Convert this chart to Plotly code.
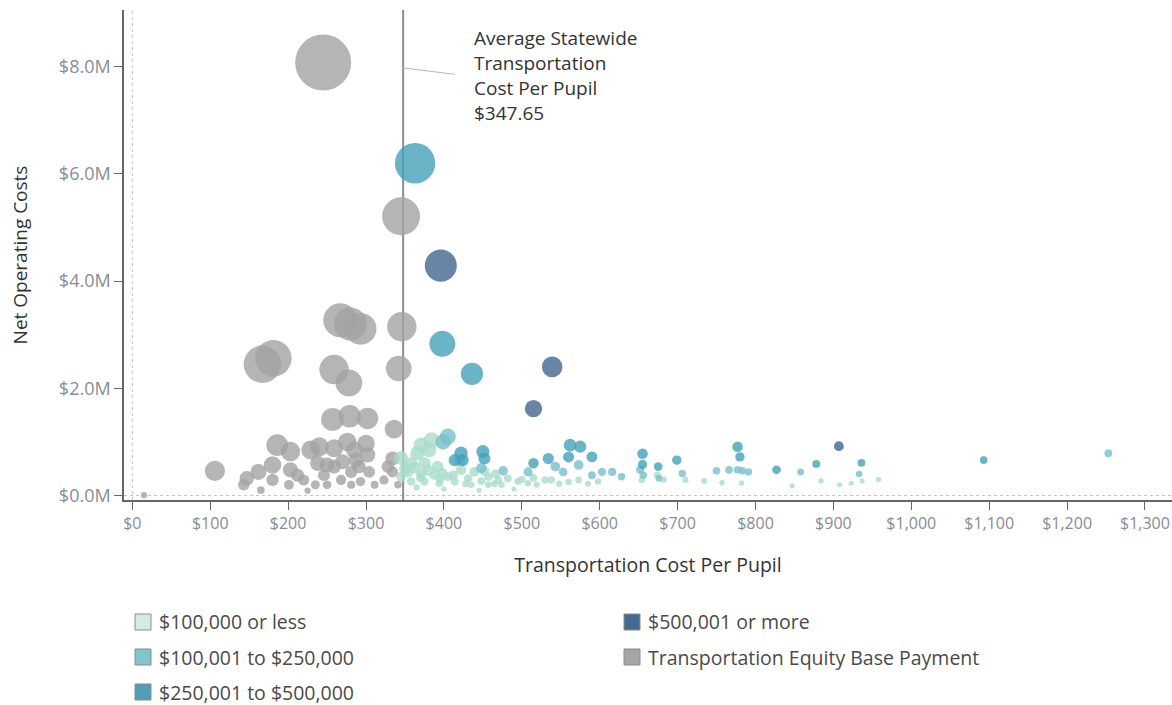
import plotly.graph_objects as go

# ---------------- data ----------------
# Transportation Equity Base Payment districts (grey)
teb_cost_per_pupil = [245, 345, 346, 342, 167, 181, 267, 280, 293, 259, 278, 257, 279, 302, 336,
                      186, 203, 229, 240, 259, 276, 300, 302, 285, 334, 106, 180, 162, 147, 143,
                      180, 203, 212, 220, 201, 235, 246, 259, 270, 281, 291, 304, 268, 281, 293,
                      311, 323, 328, 334, 341, 250, 165, 225, 15, 238, 287, 250]
teb_net_cost_m = [8.08, 5.21, 3.15, 2.37, 2.45, 2.56, 3.27, 3.20, 3.11, 2.35, 2.10, 1.42, 1.48, 1.44, 1.24,
                  0.94, 0.82, 0.85, 0.91, 0.88, 1.00, 0.97, 0.76, 0.85, 0.69, 0.46, 0.57, 0.44, 0.32, 0.20,
                  0.29, 0.48, 0.38, 0.29, 0.20, 0.20, 0.38, 0.54, 0.63, 0.44, 0.54, 0.44, 0.29, 0.20, 0.26,
                  0.20, 0.29, 0.54, 0.44, 0.20, 0.20, 0.10, 0.09, 0.006, 0.60, 0.66, 0.57]
teb_pupils = [33000, 15100, 9100, 6900, 14700, 14100, 12200, 11400, 10600, 9100, 7500, 5500, 5300, 4800, 3700,
              5000, 4000, 3700, 3800, 3400, 3600, 3200, 2500, 3000, 2100, 4300, 3200, 2700, 2200, 1400,
              1600, 2400, 1800, 1300, 1000, 850, 1500, 2100, 2300, 1600, 1900, 1450, 1100, 700, 900,
              650, 900, 1650, 1300, 600, 800, 600, 400, 400, 2500, 2300, 2300]

# $100,000 or less
low_cost_per_pupil = [371, 366, 381, 358, 375, 392, 354, 371, 388, 405, 358, 375, 394, 414, 431, 439, 422,
                      457, 470, 482, 495, 435, 457, 508, 519, 538, 384, 345, 345, 573, 598, 474, 530, 674,
                      682, 654, 710, 734, 757, 884, 937, 958, 847, 908, 923, 782, 365, 400, 445, 490, 420, 350,
                      362, 380, 398, 412, 428, 448, 465, 500, 515, 548, 560, 585, 370, 395, 452, 466]
low_net_cost_m = [0.94, 0.79, 0.85, 0.60, 0.60, 0.54, 0.44, 0.41, 0.38, 0.35, 0.26, 0.26, 0.23, 0.26, 0.32, 0.44, 0.48,
                  0.35, 0.29, 0.32, 0.26, 0.20, 0.20, 0.23, 0.20, 0.29, 1.03, 0.35, 0.70, 0.29, 0.26, 0.20, 0.29, 0.38,
                  0.30, 0.29, 0.29, 0.27, 0.24, 0.27, 0.27, 0.30, 0.18, 0.20, 0.23, 0.23, 0.15, 0.12, 0.10, 0.12, 0.65, 0.50,
                  0.52, 0.47, 0.42, 0.38, 0.22, 0.27, 0.22, 0.30, 0.33, 0.22, 0.25, 0.22, 0.33, 0.31, 0.46, 0.40]
low_pupils = [2500, 2150, 2250, 1700, 1600, 1400, 1250, 1100, 1000, 850, 730, 700, 600, 630, 740, 1000, 1100,
              770, 620, 660, 530, 460, 440, 450, 390, 540, 2700, 1000, 2000, 510, 430, 420, 550, 560,
              440, 440, 410, 370, 320, 310, 290, 310, 210, 220, 250, 290, 410, 300, 220, 245, 1550, 1430,
              1500, 1250, 1050, 900, 520, 620, 480, 600, 640, 400, 450, 380, 900, 800, 1000, 850]

# $100,001 to $250,000
mid_cost_per_pupil = [405, 399, 448, 476, 508, 543, 553, 573, 590, 603, 616, 628, 652, 676, 656, 706,
                      750, 766, 777, 783, 791, 858, 933, 1253]
mid_net_cost_m = [1.10, 1.00, 0.51, 0.46, 0.44, 0.54, 0.44, 0.57, 0.38, 0.44, 0.44, 0.35, 0.48, 0.32, 0.38, 0.41,
                  0.46, 0.48, 0.48, 0.46, 0.44, 0.44, 0.40, 0.79]
mid_pupils = [2700, 2500, 1150, 970, 870, 1000, 800, 1000, 640, 730, 710, 560, 740, 470, 580, 580,
              610, 630, 620, 590, 560, 510, 430, 630]

# $250,001 to $500,000
high_cost_per_pupil = [363, 398, 436, 422, 450, 424, 452, 562, 575, 560, 590, 655, 655, 675, 699, 777,
                       780, 827, 878, 936, 1093, 414, 515, 534]
high_net_cost_m = [6.20, 2.83, 2.27, 0.79, 0.82, 0.66, 0.69, 0.94, 0.91, 0.72, 0.72, 0.78, 0.58, 0.54, 0.66, 0.91,
                   0.72, 0.48, 0.59, 0.61, 0.66, 0.66, 0.60, 0.69]
high_pupils = [17100, 7100, 5200, 1870, 1820, 1560, 1530, 1670, 1580, 1290, 1220, 1190, 890, 800, 940, 1170,
               920, 800, 670, 650, 600, 1590, 1165, 1290]

# $500,001 or more
top_cost_per_pupil = [396, 539, 515, 907]
top_net_cost_m = [4.29, 2.40, 1.62, 0.92]
top_pupils = [10800, 4450, 3150, 1010]

avg_cost_per_pupil = 347.65

x_tick_values = [0, 100, 200, 300, 400, 500, 600, 700, 800, 900, 1000, 1100, 1200, 1300]
x_tick_labels = ["$0", "$100", "$200", "$300", "$400", "$500", "$600", "$700", "$800", "$900",
                 "$1,000", "$1,100", "$1,200", "$1,300"]
y_tick_values_m = [0, 2, 4, 6, 8]
y_tick_labels = ["$0.0M", "$2.0M", "$4.0M", "$6.0M", "$8.0M"]

legend_col1 = ["$100,000 or less", "$100,001 to $250,000", "$250,001 to $500,000"]
legend_col2 = ["$500,001 or more", "Transportation Equity Base Payment"]

# ---------------- styling ----------------
FONT = "Open Sans"
C_LOW, C_MID, C_HIGH, C_TOP, C_TEB = "#a9dccb", "#78bfcb", "#46a0b9", "#44678f", "#a2a2a2"
LEG_LOW, LEG_MID, LEG_HIGH, LEG_TOP, LEG_TEB = "#d2ebe5", "#80c4cc", "#4e9fb7", "#46698f", "#a6a6a6"
SIZEREF = 21.0

FIG_W, FIG_H = 1172, 705
PLOT_L, PLOT_R, PLOT_T, PLOT_B = 124, 1172, 10, 500   # plot box in window pixels

fig = go.Figure()
groups = [
    ("Transportation Equity Base Payment", teb_cost_per_pupil, teb_net_cost_m, teb_pupils, C_TEB),
    ("$100,000 or less", low_cost_per_pupil, low_net_cost_m, low_pupils, C_LOW),
    ("$100,001 to $250,000", mid_cost_per_pupil, mid_net_cost_m, mid_pupils, C_MID),
    ("$250,001 to $500,000", high_cost_per_pupil, high_net_cost_m, high_pupils, C_HIGH),
    ("$500,001 or more", top_cost_per_pupil, top_net_cost_m, top_pupils, C_TOP),
]
for name, xs, ys, ps, col in groups:
    fig.add_trace(go.Scatter(
        x=xs, y=[v * 1e6 for v in ys], mode="markers", name=name, showlegend=False,
        marker=dict(size=ps, sizemode="area", sizeref=SIZEREF, sizemin=2.5,
                    color=col, opacity=0.8, line=dict(width=0)),
        hovertemplate=name + "<br>%{x:$,.2f}<br>%{y:$,.0f}<extra></extra>",
    ))

shapes = [
    dict(type="line", xref="paper", yref="y", x0=0, x1=1, y0=0, y1=0,
         line=dict(color="#c4c4c4", width=1, dash="dot"), layer="below"),
    dict(type="line", xref="x", yref="paper", x0=0, x1=0, y0=0, y1=1,
         line=dict(color="#c4c4c4", width=1, dash="dot"), layer="below"),
    dict(type="line", xref="x", yref="paper", x0=avg_cost_per_pupil, x1=avg_cost_per_pupil, y0=0, y1=1,
         line=dict(color="#8e8e8e", width=2), layer="below"),
    dict(type="line", xref="x", yref="y", x0=avg_cost_per_pupil, y0=7.98e6, x1=414, y1=7.86e6,
         line=dict(color="#b8b8b8", width=1)),
]

annotations = []
note_lines = ["Average Statewide", "Transportation", "Cost Per Pupil", "$347.65"]
note_y = [8.54e6, 8.08e6, 7.61e6, 7.13e6]
for txt, yy in zip(note_lines, note_y):
    annotations.append(dict(x=435.7, y=yy, xref="x", yref="y", text=txt, showarrow=False,
                            xanchor="left", yanchor="middle",
                            font=dict(family=FONT, size=19, color="#333333")))

PW, PH = PLOT_R - PLOT_L, PLOT_B - PLOT_T
def px_x(px):
    return (px - PLOT_L) / PW
def px_y(py):
    return (PLOT_B - py) / PH

legend_items = [
    (legend_col1[0], LEG_LOW, 135, 622), (legend_col1[1], LEG_MID, 135, 657), (legend_col1[2], LEG_HIGH, 135, 692),
    (legend_col2[0], LEG_TOP, 624, 622), (legend_col2[1], LEG_TEB, 624, 657),
]
for txt, col, sx, sy in legend_items:
    shapes.append(dict(type="rect", xref="paper", yref="paper",
                       x0=px_x(sx), x1=px_x(sx + 16), y0=px_y(sy + 8), y1=px_y(sy - 8),
                       fillcolor=col, line=dict(color="#8c8c8c", width=1)))
    annotations.append(dict(x=px_x(sx + 22), y=px_y(sy), xref="paper", yref="paper", text=txt,
                            showarrow=False, xanchor="left", yanchor="middle",
                            font=dict(family=FONT, size=19.5, color="#4a4a4a")))

fig.update_layout(
    width=FIG_W, height=FIG_H,
    margin=dict(l=PLOT_L, r=FIG_W - PLOT_R, t=PLOT_T, b=FIG_H - PLOT_B, pad=0),
    paper_bgcolor="white", plot_bgcolor="white",
    font=dict(family=FONT, color="#333333"),
    shapes=shapes, annotations=annotations,
    showlegend=False,
)
fig.update_xaxes(
    range=[-10.7, 1334.7], tickvals=x_tick_values, ticktext=x_tick_labels,
    showgrid=False, zeroline=False, showline=True, linecolor="#666666", linewidth=1.5,
    ticks="outside", ticklen=8, tickcolor="#666666", tickwidth=1.2,
    ticklabeloverflow="allow",
    tickfont=dict(family=FONT, size=16, color="#888c96"),
    title=dict(text="Transportation Cost Per Pupil", font=dict(family=FONT, size=19.5, color="#333333"), standoff=25),
)
fig.update_yaxes(
    range=[-0.084e6, 9.06e6], tickvals=[v * 1e6 for v in y_tick_values_m], ticktext=y_tick_labels,
    showgrid=False, zeroline=False, showline=True, linecolor="#666666", linewidth=1.5,
    ticks="outside", ticklen=8, tickcolor="#666666", tickwidth=1.2,
    tickfont=dict(family=FONT, size=18, color="#888c96"),
    title=dict(text="Net Operating Costs", font=dict(family=FONT, size=19, color="#333333"), standoff=26),
)

# remove the page's default body margin so the 1172x705 figure fills the window exactly
fig.write_html("out.html",
               config={"displayModeBar": False},
               post_script="document.body.style.margin='0';document.body.style.overflow='hidden';")
